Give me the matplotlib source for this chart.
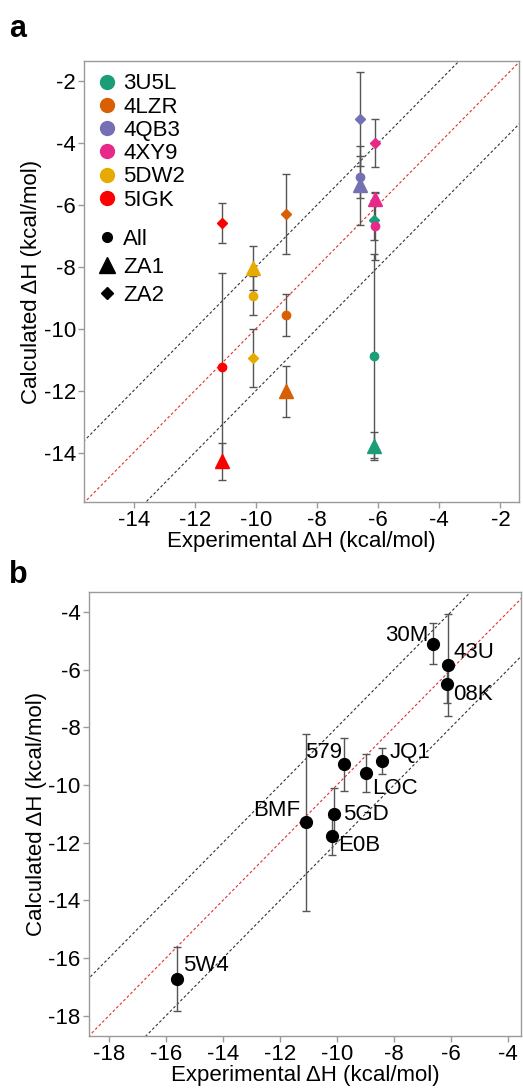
import matplotlib
matplotlib.use("Agg")
import matplotlib.pyplot as plt
from matplotlib.lines import Line2D
import numpy as np

plt.rcParams["font.family"] = ["Liberation Sans", "DejaVu Sans"]
plt.rcParams["axes.unicode_minus"] = False

# Панель a: системы и три набора расчётов
systems = ["3U5L", "4LZR", "4QB3", "4XY9", "5DW2", "5IGK"]
colors = ["#1b9e77", "#d95f02", "#7570b3", "#e7298a", "#e6ab02", "#ff0000"]
exp_a = [-6.15, -9.0, -6.6, -6.1, -10.08, -11.1]
calc_all = [-10.89, -9.55, -5.1, -6.67, -8.93, -11.25]
err_all = [3.3, 0.68, 0.68, 1.1, 0.62, 3.05]
calc_za1 = [-13.8, -12.02, -5.37, -5.8, -8.04, -14.28]
err_za1 = [0.45, 0.83, 1.27, 0.2, 0.72, 0.6]
calc_za2 = [-6.48, -6.29, -3.22, -4.01, -10.95, -6.59]
err_za2 = [0.65, 1.29, 1.52, 0.78, 0.94, 0.65]

# Панель b: лиганды
ligands = ["30M", "43U", "08K", "579", "JQ1", "LOC", "BMF", "5GD", "E0B", "5W4"]
exp_b = [-6.65, -6.1, -6.15, -9.76, -8.42, -8.99, -11.1, -10.09, -10.18, -15.6]
calc_b = [-5.11, -5.84, -6.51, -9.28, -9.16, -9.6, -11.3, -11.02, -11.78, -16.72]
err_b = [0.71, 1.78, 0.64, 0.92, 0.45, 0.66, 3.08, 0.93, 0.66, 1.1]

ticks_a = [-14, -12, -10, -8, -6, -4, -2]
ticks_b = [-18, -16, -14, -12, -10, -8, -6, -4]

FS = 16
SPINE = "#9a9a9a"
ERR = "#555555"


def styleAxes(ax):
    for s in ax.spines.values():
        s.set_color(SPINE)
        s.set_linewidth(1.0)
    ax.tick_params(colors=SPINE, labelcolor="black", labelsize=FS, length=4, width=1, pad=2)
    ax.set_xlabel("Experimental ΔH (kcal/mol)", fontsize=FS, labelpad=0)
    ax.set_ylabel("Calculated ΔH (kcal/mol)", fontsize=FS, labelpad=1)


def diagonals(ax, lo, hi):
    x = np.array([lo - 5, hi + 5])
    ax.plot(x, x, ls=(0, (2.5, 2)), color="#e03030", lw=0.8, zorder=1)
    ax.plot(x, x + 2, ls=(0, (2.5, 2)), color="#333333", lw=0.8, zorder=1)
    ax.plot(x, x - 2, ls=(0, (2.5, 2)), color="#333333", lw=0.8, zorder=1)


fig = plt.figure(figsize=(5.23, 10.89), dpi=100)

# ---- a ----
ax = fig.add_axes([0.161, 0.539, 0.832, 0.405])
diagonals(ax, -16, -1)
for i in range(len(systems)):
    for calc, err, mk, ms in [
        (calc_all, err_all, "o", 6),
        (calc_za1, err_za1, "^", 10.5),
        (calc_za2, err_za2, "D", 4.8),
    ]:
        ax.errorbar(exp_a[i], calc[i], yerr=err[i], fmt="none", ecolor=ERR,
                    elinewidth=1, capsize=2.6, capthick=1, zorder=2)
        ax.plot(exp_a[i], calc[i], marker=mk, ms=ms, color=colors[i],
                ls="none", zorder=3)
ax.set_xlim(-15.62, -1.38)
ax.set_ylim(-15.6, -1.35)
ax.set_xticks(ticks_a)
ax.set_yticks(ticks_a)
styleAxes(ax)

sys_handles = [Line2D([], [], marker="o", ms=10, color=c, ls="none") for c in colors]
leg1 = ax.legend(sys_handles, systems, loc="upper left", bbox_to_anchor=(-0.01, 1.007),
                 frameon=False, fontsize=FS, handlelength=1.0, handletextpad=0.25,
                 labelspacing=0.1, borderaxespad=0.3)
ax.add_artist(leg1)
set_handles = [
    Line2D([], [], marker="o", ms=7, color="black", ls="none"),
    Line2D([], [], marker="^", ms=12, color="black", ls="none"),
    Line2D([], [], marker="D", ms=6, color="black", ls="none"),
]
ax.legend(set_handles, ["All", "ZA1", "ZA2"], loc="upper left", bbox_to_anchor=(-0.01, 0.655),
          frameon=False, fontsize=FS, handlelength=1.0, handletextpad=0.25,
          labelspacing=0.32, borderaxespad=0.3)

fig.text(0.018, 0.966, "a", fontsize=22, fontweight="bold")

# ---- b ----
bx = fig.add_axes([0.170, 0.0487, 0.826, 0.408])
diagonals(bx, -19, -3)
bx.errorbar(exp_b, calc_b, yerr=err_b, fmt="none", ecolor=ERR, elinewidth=1,
            capsize=2.6, capthick=1, zorder=2)
bx.plot(exp_b, calc_b, "o", ms=8.5, color="black", zorder=3)

# смещения подписей в пикселях
label_offsets = [(-4, 8), (5, 12), (6, -10), (-2, 12), (8, 8),
                 (6, -15), (-5, 12), (9, 0), (6, -9), (6, 13)]
for name, x, y, (dx, dy) in zip(ligands, exp_b, calc_b, label_offsets):
    bx.annotate(name, (x, y), xytext=(dx, dy), textcoords="offset pixels",
                ha="right" if dx < 0 else "left", va="center", fontsize=FS, zorder=4)
bx.set_xlim(-18.7, -3.55)
bx.set_ylim(-18.7, -3.3)
bx.set_xticks(ticks_b)
bx.set_yticks(ticks_b)
styleAxes(bx)

fig.text(0.018, 0.465, "b", fontsize=22, fontweight="bold")

fig.savefig("out.png", dpi=100)
